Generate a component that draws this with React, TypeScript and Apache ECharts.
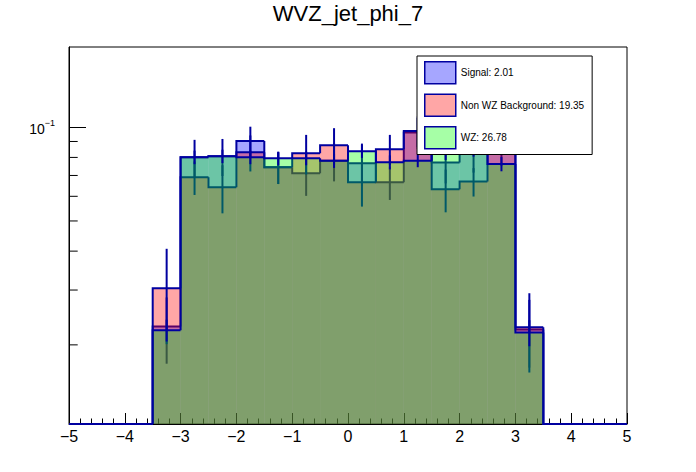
import React, { useEffect, useRef } from 'react';
import * as echarts from 'echarts';

const FONT = '"Liberation Sans", Arial, Helvetica, sans-serif';
const TITLE = 'WVZ_jet_phi_7';

// histogram binning: 20 bins of width 0.5 from -5 to 5 (low edges)
const BIN_LOW_EDGES = [-5, -4.5, -4, -3.5, -3, -2.5, -2, -1.5, -1, -0.5, 0, 0.5, 1, 1.5, 2, 2.5, 3, 3.5, 4, 4.5];
const BIN_WIDTH = 0.5;

// axis ranges / ticks
const X_MIN = -5;
const X_MAX = 5;
const Y_MIN = 0.01114;
const Y_MAX = 0.181;
const Y_MINOR_TICKS = [0.02, 0.03, 0.04, 0.05, 0.06, 0.07, 0.08, 0.09];

// legend names
const SIGNAL_NAME = 'Signal: 2.01';
const BKG_NAME = 'Non WZ Background: 19.35';
const WZ_NAME = 'WZ: 26.78';

// series values (normalised bin contents) and their errors
const SIGNAL = [0, 0, 0, 0.0229, 0.0801, 0.0807, 0.0904, 0.0744, 0.0712, 0.078, 0.0766, 0.0666, 0.0961, 0.077, 0.0825, 0.086, 0.0224, 0, 0, 0];
const SIGNAL_ERR = [0, 0, 0, 0.0055, 0.011, 0.011, 0.01, 0.0087, 0.011, 0.011, 0.012, 0.0082, 0.011, 0.011, 0.011, 0.011, 0.0055, 0, 0, 0];

const BKG = [0, 0, 0, 0.0304, 0.0691, 0.0642, 0.0831, 0.0744, 0.0825, 0.0875, 0.0666, 0.085, 0.0973, 0.0632, 0.0669, 0.1, 0.0228, 0, 0, 0];
const BKG_ERR = [0, 0, 0, 0.0103, 0.0085, 0.0113, 0.011, 0.0087, 0.012, 0.0118, 0.011, 0.0095, 0.011, 0.0099, 0.007, 0.011, 0.0065, 0, 0, 0];

const WZ = [0, 0, 0, 0.0223, 0.0801, 0.0807, 0.0801, 0.0795, 0.0795, 0.078, 0.0837, 0.0772, 0.0781, 0.0825, 0.0845, 0.0762, 0.0219, 0, 0, 0];
const WZ_ERR = [0, 0, 0, 0.0018, 0.004, 0.004, 0.004, 0.004, 0.004, 0.004, 0.004, 0.004, 0.0037, 0.004, 0.004, 0.004, 0.0021, 0, 0, 0];

const LINE = '#0000a0';
const FILL_SIGNAL = 'rgba(0,0,255,0.35)';
const FILL_BKG = 'rgba(255,0,0,0.35)';
const FILL_WZ = 'rgba(0,255,0,0.35)';

function histSeries(name: string, values: number[], errors: number[], fill: string) {
  const n = values.length;
  const data = values.map((v, i) => {
    const lo = BIN_LOW_EDGES[i];
    const prev = i > 0 ? values[i - 1] : 0;
    return [lo, lo + BIN_WIDTH, Math.max(v, Y_MIN), Math.max(prev, Y_MIN), errors[i], v, i === n - 1 ? 1 : 0];
  });
  return {
    type: 'custom',
    name,
    coordinateSystem: 'cartesian2d',
    silent: true,
    encode: { x: [0, 1], y: 2 },
    data,
    renderItem: (_params: any, api: any) => {
      const lo = api.value(0);
      const hi = api.value(1);
      const v = api.value(2);
      const prev = api.value(3);
      const err = api.value(4);
      const raw = api.value(5);
      const last = api.value(6);
      const tl = api.coord([lo, v]);
      const tr = api.coord([hi, v]);
      const base = api.coord([lo, Y_MIN]);
      const pp = api.coord([lo, prev]);
      const children: any[] = [];
      if (raw > 0) {
        children.push({
          type: 'rect',
          shape: { x: tl[0], y: tl[1], width: tr[0] - tl[0], height: base[1] - tl[1] },
          style: { fill },
        });
      }
      children.push({
        type: 'polyline',
        shape: { points: [pp, tl, tr] },
        style: { stroke: LINE, lineWidth: 2, fill: 'none' },
      });
      if (last) {
        const br = api.coord([hi, Y_MIN]);
        children.push({
          type: 'line',
          shape: { x1: tr[0], y1: tr[1], x2: br[0], y2: br[1] },
          style: { stroke: LINE, lineWidth: 2 },
        });
      }
      if (raw > 0 && err > 0) {
        const mid = (lo + hi) / 2;
        const a = api.coord([mid, raw + err]);
        const b = api.coord([mid, Math.max(raw - err, Y_MIN)]);
        children.push({
          type: 'line',
          shape: { x1: a[0], y1: a[1], x2: b[0], y2: b[1] },
          style: { stroke: LINE, lineWidth: 2 },
        });
      }
      return { type: 'group', children };
    },
  };
}

export default function App() {
  const ref = useRef<HTMLDivElement>(null);
  useEffect(() => {
    if (!ref.current) return;
    const chart = echarts.init(ref.current, undefined, { renderer: 'svg' });
    const legendItem = (name: string, color: string) => ({
      name,
      icon: 'rect',
      itemStyle: { color, borderColor: LINE, borderWidth: 1.5 },
    });
    chart.setOption({
      animation: false,
      backgroundColor: '#fff',
      title: {
        text: TITLE,
        left: 'center',
        top: 2,
        padding: 0,
        textStyle: { fontSize: 22, fontWeight: 'normal', color: '#000', fontFamily: FONT },
      },
      legend: {
        orient: 'vertical',
        left: 417,
        top: 56,
        padding: [5, 8, 5, 7],
        itemGap: 9,
        itemWidth: 31,
        itemHeight: 22,
        backgroundColor: '#fff',
        borderColor: '#000',
        borderWidth: 1,
        z: 10,
        selectedMode: false,
        textStyle: { fontSize: 10, color: '#000', fontFamily: FONT },
        data: [
          legendItem(SIGNAL_NAME, FILL_SIGNAL),
          legendItem(BKG_NAME, FILL_BKG),
          legendItem(WZ_NAME, FILL_WZ),
        ],
      },
      grid: {
        left: 69,
        right: 69,
        top: 47,
        bottom: 48,
        show: true,
        borderColor: '#000',
        borderWidth: 1,
        backgroundColor: 'transparent',
      },
      xAxis: {
        type: 'value',
        min: X_MIN,
        max: X_MAX,
        interval: 1,
        position: 'bottom',
        axisLine: { show: true, onZero: false, lineStyle: { color: '#000', width: 1 } },
        axisTick: { show: true, inside: true, length: 11, lineStyle: { color: '#000' } },
        minorTick: { show: true, splitNumber: 5, length: 5.5, lineStyle: { color: '#000' } },
        axisLabel: {
          color: '#000',
          fontSize: 16,
          fontFamily: FONT,
          margin: 4,
          lineHeight: 16,
          formatter: (v: number) => String(v).replace('-', '\u2212'),
        },
        splitLine: { show: false },
        minorSplitLine: { show: false },
      },
      yAxis: {
        type: 'log',
        logBase: 10,
        min: Y_MIN,
        max: Y_MAX,
        axisLine: { show: true, onZero: false, lineStyle: { color: '#000', width: 1 } },
        axisTick: { show: true, inside: true, length: 17, lineStyle: { color: '#000' } },
        axisLabel: {
          showMinLabel: false,
          showMaxLabel: false,
          margin: 14,
          formatter: (v: number) => (Math.abs(Math.log10(v) + 1) < 0.01 ? '{n|10}{e|\u22121}' : ''),
          rich: {
            n: { fontSize: 14, fontFamily: FONT, color: '#000', verticalAlign: 'bottom', lineHeight: 18 },
            e: { fontSize: 9, fontFamily: FONT, color: '#000', verticalAlign: 'top', lineHeight: 9 },
          },
        },
        splitLine: { show: false },
        minorTick: { show: false },
      },
      series: [
        histSeries(SIGNAL_NAME, SIGNAL, SIGNAL_ERR, FILL_SIGNAL),
        histSeries(BKG_NAME, BKG, BKG_ERR, FILL_BKG),
        histSeries(WZ_NAME, WZ, WZ_ERR, FILL_WZ),
        {
          type: 'custom',
          name: 'y-minor-ticks',
          coordinateSystem: 'cartesian2d',
          silent: true,
          encode: { x: 0, y: 1 },
          data: Y_MINOR_TICKS.map((t) => [X_MIN, t]),
          renderItem: (_p: any, api: any) => {
            const p = api.coord([api.value(0), api.value(1)]);
            return {
              type: 'line',
              shape: { x1: p[0], y1: p[1], x2: p[0] + 8.7, y2: p[1] },
              style: { stroke: '#000', lineWidth: 1 },
            };
          },
        },
      ],
    });
    return () => chart.dispose();
  }, []);
  return (
    <div
      ref={ref}
      style={{ position: 'fixed', left: 0, top: 0, width: 696, height: 472, background: '#fff' }}
    />
  );
}
